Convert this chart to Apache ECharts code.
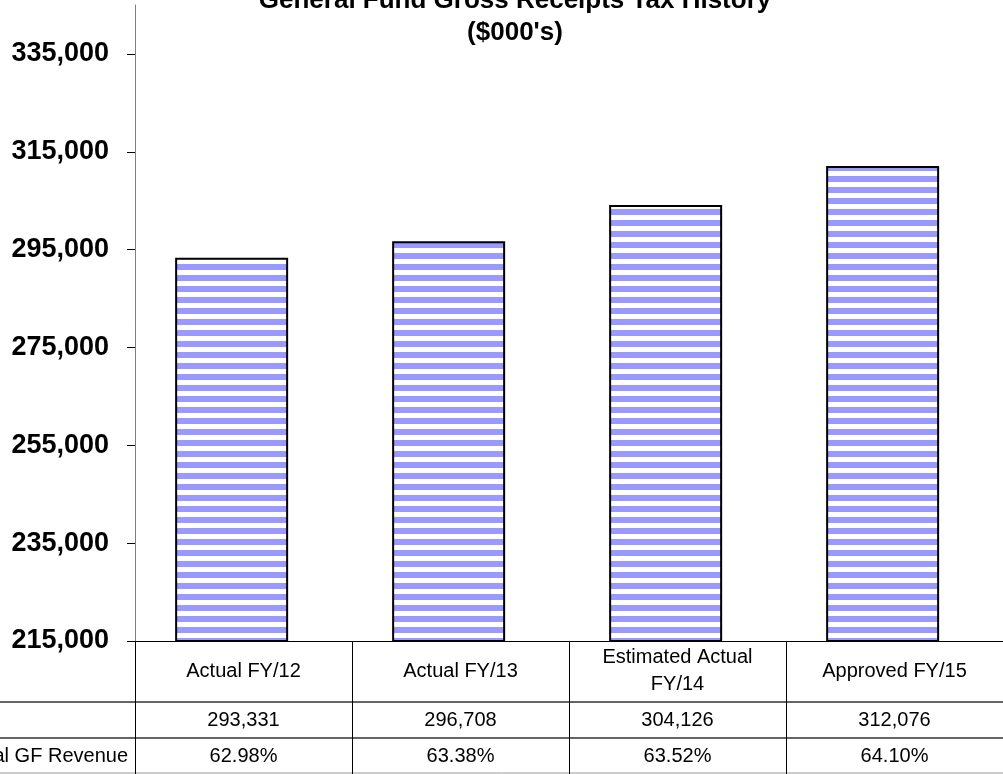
<!DOCTYPE html>
<html>
<head>
<meta charset="utf-8">
<script src="https://cdn.jsdelivr.net/npm/echarts@6/dist/echarts.min.js"></script>
<style>
    html, body { margin: 0; padding: 0; background: #fff; }
    #chart { width: 1003px; height: 774px; }
</style>
</head>
<body>
<div id="chart"></div>
<script>
// chart data
const categories = ['Actual FY/12', 'Actual FY/13', 'Estimated Actual\nFY/14', 'Approved FY/15'];
const grtValues = [293331, 296708, 304126, 312076];
const pctOfRevenue = [62.98, 63.38, 63.52, 64.10];
const yTicks = [215000, 235000, 255000, 275000, 295000, 315000, 335000];
const pctRowLabel = '% of Total GF Revenue';

const boldFont = "'Liberation Sans', Arial, sans-serif";
// no narrow face installed, so the table text uses a smaller size of the same family
const narrowFont = "'Liberation Sans Narrow', 'Arial Narrow', 'Liberation Sans', sans-serif";

// horizontal blue/white stripes like the excel fill
function stripePattern() {
    const c = document.createElement('canvas');
    c.width = 8;
    c.height = 11;
    const ctx = c.getContext('2d');
    ctx.fillStyle = '#ffffff';
    ctx.fillRect(0, 0, 8, 11);
    ctx.fillStyle = '#9999ff';
    ctx.fillRect(0, 0, 8, 6);
    return c;
}

const fmt = v => v.toLocaleString('en-US');
const tableLabel = { fontFamily: narrowFont, fontSize: 20, color: '#000' };

const chart = echarts.init(document.getElementById('chart'), null, { renderer: 'canvas' });

chart.setOption({
    animation: false,
    title: {
        text: "General Fund Gross Receipts Tax History\n($000's)",
        left: 510,
        top: -20,
        textAlign: 'center',
        textStyle: { fontFamily: boldFont, fontSize: 26, fontWeight: 'bold', lineHeight: 32, color: '#000' }
    },
    grid: { left: 135, right: 0, top: 5, bottom: 133 },
    xAxis: [
        {
            type: 'category',
            position: 'bottom',
            data: categories,
            axisLine: { lineStyle: { color: '#000', width: 1 } },
            axisTick: { show: true, interval: 0, length: 134, lineStyle: { color: '#000', width: 1 } },
            axisLabel: Object.assign({ interval: 0, margin: 30, verticalAlign: 'middle', lineHeight: 27, align: 'center' }, tableLabel)
        },
        {
            type: 'category',
            position: 'bottom',
            data: grtValues.map(fmt),
            axisLine: { show: false },
            axisTick: { show: false },
            axisLabel: Object.assign({ interval: 0, margin: 79, verticalAlign: 'middle' }, tableLabel)
        },
        {
            type: 'category',
            position: 'bottom',
            data: pctOfRevenue.map(v => v.toFixed(2) + '%'),
            axisLine: { show: false },
            axisTick: { show: false },
            axisLabel: Object.assign({ interval: 0, margin: 115, verticalAlign: 'middle' }, tableLabel)
        }
    ],
    yAxis: {
        type: 'value',
        min: 215000,
        max: 345000,
        splitLine: { show: false },
        axisLine: { show: true, lineStyle: { color: '#808080', width: 1 } },
        axisTick: { show: true, length: 8, customValues: yTicks, lineStyle: { color: '#000' } },
        axisLabel: {
            customValues: yTicks,
            formatter: fmt,
            margin: 26,
            fontFamily: boldFont,
            fontSize: 27,
            fontWeight: 'bold',
            color: '#000'
        }
    },
    series: [
        {
            name: 'Gross Receipts Tax',
            type: 'bar',
            xAxisIndex: 0,
            data: grtValues,
            barWidth: 113,
            barGap: '-79%',
            itemStyle: { color: { image: stripePattern(), repeat: 'repeat' }, borderColor: '#000', borderWidth: 2 }
        },
        {
            // percentages sit far below the axis minimum, so excel shows nothing here
            name: pctRowLabel,
            type: 'bar',
            xAxisIndex: 0,
            data: pctOfRevenue,
            barWidth: 113,
            itemStyle: { color: '#9999ff', borderColor: '#000', borderWidth: 2 }
        }
    ],
    graphic: [
        { type: 'line', silent: true, shape: { x1: 0, y1: 702, x2: 1003, y2: 702 }, style: { stroke: '#666', lineWidth: 2 } },
        { type: 'line', silent: true, shape: { x1: 0, y1: 738, x2: 1003, y2: 738 }, style: { stroke: '#666', lineWidth: 2 } },
        { type: 'line', silent: true, shape: { x1: 0, y1: 773, x2: 1003, y2: 773 }, style: { stroke: '#999', lineWidth: 1 } },
        {
            type: 'text',
            silent: true,
            x: 128,
            y: 756,
            style: { text: pctRowLabel, align: 'right', verticalAlign: 'middle', font: '20px ' + narrowFont, fill: '#000' }
        }
    ]
});
</script>
</body>
</html>
